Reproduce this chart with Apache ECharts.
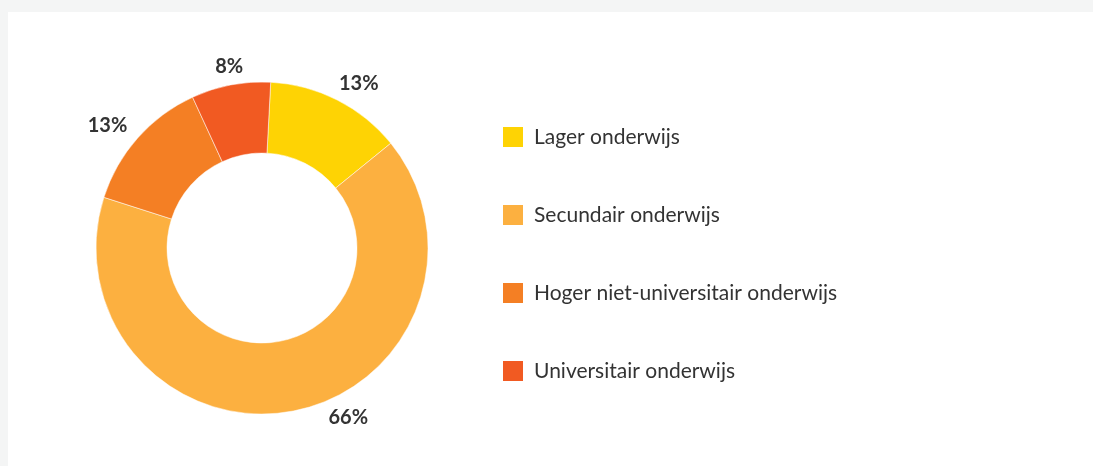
<!DOCTYPE html>
<html>
<head>
<meta charset="utf-8">
<script src="https://cdn.jsdelivr.net/npm/echarts@6/dist/echarts.min.js"></script>
<style>
html,body{margin:0;padding:0;background:#f4f5f5;width:1093px;height:466px;overflow:hidden;}
#panel{position:absolute;left:8px;top:12px;width:1085px;height:454px;background:#ffffff;}
#chart{position:absolute;left:0;top:0;width:1093px;height:466px;}
</style>
</head>
<body>
<div id="panel"></div>
<div id="chart"></div>
<script>
const categories = ['Lager onderwijs', 'Secundair onderwijs', 'Hoger niet-universitair onderwijs', 'Universitair onderwijs'];
const values = [13.3, 65.8, 13.2, 7.7];
const percentLabels = ['13%', '66%', '13%', '8%'];
const colors = ['#fed304', '#fcb040', '#f47f24', '#f15a22'];
// small nudges of the percentage labels away from their slice mid-angles
const labelNudgeX = [13, 52, -16, 2];
const labelNudgeY = [0, -12, 0, 0];

const chart = echarts.init(document.getElementById('chart'), null, {renderer: 'canvas'});
const data = categories.map((c, i) => ({name: c, value: values[i], itemStyle: {color: colors[i]}}));
const labelData = categories.map((c, i) => ({name: c, value: values[i], itemStyle: {color: 'rgba(0,0,0,0)'}}));
chart.setOption({
  backgroundColor: 'transparent',
  animation: false,
  legend: {
    orient: 'vertical',
    left: 501,
    top: 125,
    padding: 0,
    itemWidth: 22,
    itemHeight: 22,
    itemGap: 54,
    icon: 'rect',
    data: categories,
    textStyle: {fontFamily: 'Lato', fontSize: 21, lineHeight: 22, color: '#333333', padding: [0, 0, 0, 5]},
    selectedMode: false
  },
  series: [{
    type: 'pie',
    center: [262, 248],
    radius: [95, 166],
    startAngle: 87,
    clockwise: true,
    data: data,
    itemStyle: {borderColor: '#ffffff', borderWidth: 0.5},
    label: {show: false},
    labelLine: {show: false},
    emphasis: {disabled: true}
  }, {
    type: 'pie',
    silent: true,
    center: [262, 248],
    radius: [166, 198],
    startAngle: 87,
    clockwise: true,
    data: labelData,
    itemStyle: {color: 'rgba(0,0,0,0)'},
    label: {
      show: true,
      position: 'inside',
      formatter: p => percentLabels[p.dataIndex],
      fontFamily: 'Lato',
      fontSize: 20,
      fontWeight: 'bold',
      color: '#333333'
    },
    labelLayout: p => ({dx: labelNudgeX[p.dataIndex], dy: labelNudgeY[p.dataIndex]}),
    labelLine: {show: false},
    emphasis: {disabled: true}
  }]
});
</script>
</body>
</html>
